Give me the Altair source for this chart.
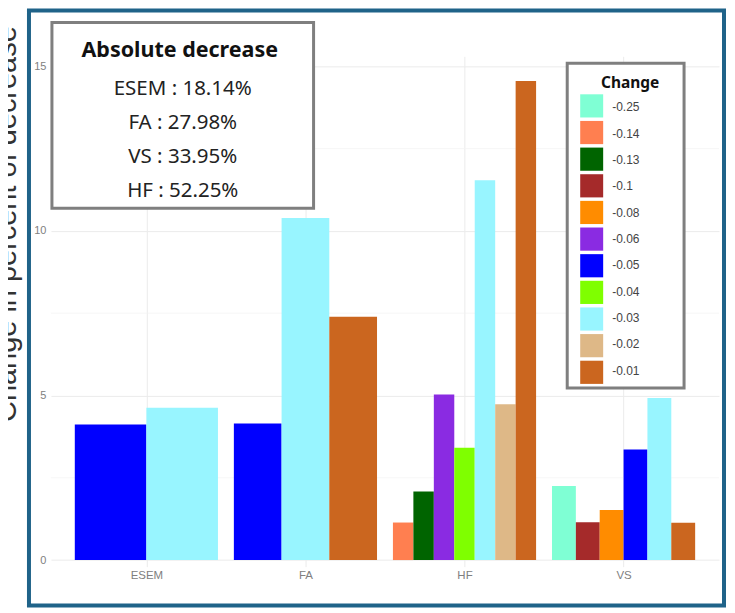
import json
import altair as alt
import pandas as pd

# ---------------- data ----------------
methods = ["ESEM", "FA", "HF", "VS"]
bar_method = ["ESEM", "ESEM",
              "FA", "FA", "FA",
              "HF", "HF", "HF", "HF", "HF", "HF", "HF",
              "VS", "VS", "VS", "VS", "VS", "VS"]
bar_change = ["-0.05", "-0.03",
              "-0.05", "-0.03", "-0.01",
              "-0.14", "-0.13", "-0.06", "-0.04", "-0.03", "-0.02", "-0.01",
              "-0.25", "-0.1", "-0.08", "-0.05", "-0.03", "-0.01"]
bar_value = [4.12, 4.63,
             4.15, 10.39, 7.39,
             1.14, 2.08, 5.03, 3.41, 11.54, 4.73, 14.55,
             2.25, 1.15, 1.52, 3.36, 4.92, 1.13]
change_levels = ["-0.25", "-0.14", "-0.13", "-0.1", "-0.08", "-0.06",
                 "-0.05", "-0.04", "-0.03", "-0.02", "-0.01"]
change_colors = ["#7FFFD4", "#FF7F50", "#006400", "#A52A2A", "#FF8C00", "#8A2BE2",
                 "#0000FF", "#7FFF00", "#98F5FF", "#DEB887", "#CB661F"]
y_ticks = [0, 5, 10, 15]
y_minor = [2.5, 7.5, 12.5]
box_title = "Absolute decrease"
box_lines = ["ESEM : 18.14%", "FA : 27.98%", "VS : 33.95%", "HF : 52.25%"]
legend_title = "Change"
y_title = "Change in percent of decrease"

df = pd.DataFrame({"method": bar_method, "change": bar_change, "value": bar_value})
legend_df = pd.DataFrame({"change": change_levels})
minor_df = pd.DataFrame({"v": y_minor})
one = pd.DataFrame({"a": [0]})

W, H = 669, 511
yscale = alt.Scale(domain=[-0.2, 15.3], nice=False, zero=False)
xscale = alt.Scale(domain=[0.4, 4.6], nice=False, zero=False)
cscale = alt.Scale(domain=change_levels, range=change_colors)
GRID = "#ebebeb"
AX_FONT = "Liberation Sans"

methods_js = json.dumps(methods)

# minor horizontal grid
minor = alt.Chart(minor_df).mark_rule(color="#f3f3f3", strokeWidth=0.7).encode(
    y=alt.Y("v:Q", scale=yscale, axis=None)
)

# bars (dodged like ggplot position_dodge)
bars = alt.Chart(df).transform_calculate(
    cnum="toNumber(datum.change)",
    gi=f"indexof({methods_js}, datum.method) + 1",
).transform_window(
    rank="row_number()", groupby=["method"], sort=[alt.SortField("cnum", order="ascending")]
).transform_joinaggregate(
    n="count()", groupby=["method"]
).transform_calculate(
    xs="datum.gi - 0.45 + (datum.rank - 1) * 0.9 / datum.n",
    xe="datum.gi - 0.45 + datum.rank * 0.9 / datum.n",
).mark_rect().encode(
    x=alt.X("xs:Q", scale=xscale, title=None,
            axis=alt.Axis(values=[1, 2, 3, 4],
                          labelExpr=f"{methods_js}[datum.value - 1]",
                          grid=True, gridColor=GRID, gridWidth=1,
                          ticks=False, domain=False,
                          labelColor="#808080", labelFontSize=11.5, labelFont=AX_FONT,
                          labelPadding=3)),
    x2="xe:Q",
    y=alt.Y("value:Q", scale=yscale, title=None,
            axis=alt.Axis(values=y_ticks, grid=True, gridColor=GRID, gridWidth=1,
                          ticks=False, domain=False,
                          labelColor="#808080", labelFontSize=11, labelFont=AX_FONT,
                          labelPadding=5)),
    y2=alt.datum(0),
    color=alt.Color("change:N", scale=cscale, legend=None),
)

# annotation box
box = alt.Chart(one).mark_rect(fill="white", stroke="#7f7f7f", strokeWidth=3).encode(
    x=alt.value(1), x2=alt.value(263), y=alt.value(-34), y2=alt.value(152)
)
box_t = alt.Chart(one).mark_text(font="Noto Sans", fontSize=21.5, fontWeight="bold",
                                  color="#111111", baseline="middle").encode(
    x=alt.value(129), y=alt.value(-5), text=alt.value(box_title)
)
box_l = alt.Chart(one).mark_text(font="Noto Sans", fontSize=20.5, color="#222222",
                                  baseline="middle", lineHeight=34).encode(
    x=alt.value(132), y=alt.value(33), text=alt.value(box_lines)
)

# legend (drawn with the colour scale)
lscale = alt.Scale(domain=change_levels, range=[38, 328], paddingInner=0.13, paddingOuter=0)
leg_frame = alt.Chart(one).mark_rect(fill="white", stroke="#7f7f7f", strokeWidth=3).encode(
    x=alt.value(517), x2=alt.value(634), y=alt.value(7), y2=alt.value(332)
)
leg_title = alt.Chart(one).mark_text(font="Noto Sans", fontSize=15.5, fontWeight="bold",
                                      color="#111111", baseline="middle").encode(
    x=alt.value(580), y=alt.value(27), text=alt.value(legend_title)
)
leg_sw = alt.Chart(legend_df).mark_rect().encode(
    y=alt.Y("change:N", scale=lscale, axis=None, sort=change_levels),
    x=alt.value(530), x2=alt.value(553),
    color=alt.Color("change:N", scale=cscale, legend=None),
)
leg_lab = alt.Chart(legend_df).mark_text(align="left", baseline="middle", fontSize=12,
                                          font=AX_FONT, color="#444444").encode(
    y=alt.Y("change:N", scale=lscale, axis=None, sort=change_levels),
    x=alt.value(562),
    text="change:N",
)

# outer blue frame
frame = alt.Chart(one).mark_rect(fillOpacity=0, stroke="#1f6389", strokeWidth=4).encode(
    x=alt.value(-22), x2=alt.value(674), y=alt.value(-46), y2=alt.value(550)
)

# cropped y title on the far left
ytitle = alt.Chart(one).mark_text(angle=270, fontSize=29, font="Liberation Sans",
                                   baseline="alphabetic", align="center",
                                   color="#333333").encode(
    x=alt.value(-35), y=alt.value(168), text=alt.value(y_title)
)

chart = alt.layer(
    minor, bars, box, box_t, box_l, leg_frame, leg_title, leg_sw, leg_lab, frame, ytitle
).resolve_scale(y="independent").properties(
    width=W, height=H,
    padding={"left": 43, "top": 48, "right": 8, "bottom": 42},
    autosize=alt.AutoSizeParams(type="none"),
    background="white",
).configure_view(stroke=None)

chart.save("out.html", embed_options={"renderer": "svg", "actions": False})
